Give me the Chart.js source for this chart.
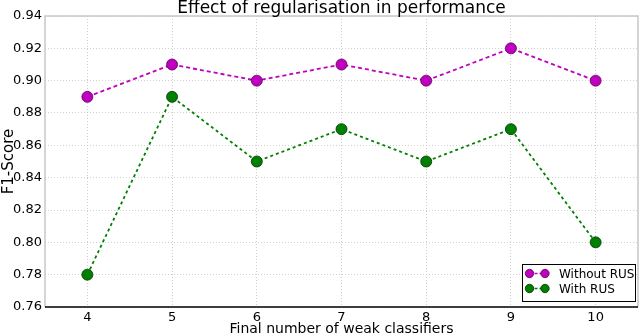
<!DOCTYPE html>
<html><head><meta charset="utf-8">
<script src="https://cdn.jsdelivr.net/npm/chart.js@4"></script>
<style>html,body{margin:0;padding:0;background:#fff}#w{width:640px;height:334px}</style>
</head><body><div id="w"><canvas id="c"></canvas></div>
<script>
const categories = [4, 5, 6, 7, 8, 9, 10];
const withoutRUS = [0.89, 0.91, 0.90, 0.91, 0.90, 0.92, 0.90];
const withRUS = [0.78, 0.89, 0.85, 0.87, 0.85, 0.87, 0.80];
const yTicks = [0.76, 0.78, 0.80, 0.82, 0.84, 0.86, 0.88, 0.90, 0.92, 0.94];
const seriesLabels = ['Without RUS', 'With RUS'];
const chartTitle = 'Effect of regularisation in performance';
const FONT = "'DejaVu Sans', sans-serif";

const titlePlugin = {
  id: 'areaTitle',
  afterDraw(chart) {
    const ctx = chart.ctx, a = chart.chartArea;
    ctx.save();
    ctx.fillStyle = '#000';
    ctx.font = '17px ' + FONT;
    ctx.textAlign = 'center';
    ctx.textBaseline = 'alphabetic';
    ctx.fillText(chartTitle, (a.left + a.right) / 2, a.top - 3);
    ctx.restore();
  }
};

const legendPlugin = {
  id: 'inLegend',
  afterDraw(chart) {
    const ctx = chart.ctx, a = chart.chartArea;
    const w = 113, h = 37;
    const x0 = a.right - 116, y0 = a.bottom - 43;
    ctx.save();
    ctx.fillStyle = '#fff';
    ctx.strokeStyle = '#000';
    ctx.lineWidth = 1;
    ctx.fillRect(x0, y0, w, h);
    ctx.strokeRect(x0 + 0.5, y0 + 0.5, w, h);
    chart.data.datasets.forEach((ds, i) => {
      const cy = y0 + 9.5 + i * 15;
      const xa = x0 + 7.5, xb = x0 + 23;
      ctx.setLineDash([3, 2]);
      ctx.strokeStyle = ds.borderColor;
      ctx.lineWidth = 1.5;
      ctx.beginPath(); ctx.moveTo(xa, cy); ctx.lineTo(xb, cy); ctx.stroke();
      ctx.setLineDash([]);
      [xa, xb].forEach(px => {
        ctx.beginPath(); ctx.arc(px, cy, 4.2, 0, Math.PI * 2);
        ctx.fillStyle = ds.pointBackgroundColor; ctx.fill();
        ctx.strokeStyle = ds.pointBorderColor; ctx.lineWidth = 0.8; ctx.stroke();
      });
      ctx.fillStyle = '#000';
      ctx.font = '12px ' + FONT;
      ctx.textBaseline = 'middle';
      ctx.textAlign = 'left';
      ctx.fillText(ds.label, x0 + 37, cy + 1);
    });
    ctx.restore();
  }
};

const frameColor = '#c8c8c8';
const framePlugin = {
  id: 'frame',
  beforeDatasetsDraw(chart) {
    const ctx = chart.ctx, a = chart.chartArea;
    ctx.save();
    ctx.strokeStyle = frameColor; ctx.lineWidth = 1.5;
    ctx.beginPath();
    ctx.moveTo(a.left, a.bottom); ctx.lineTo(a.left, a.top); ctx.lineTo(a.right, a.top); ctx.lineTo(a.right, a.bottom);
    ctx.stroke();
    ctx.strokeStyle = '#000'; ctx.lineWidth = 1.5;
    ctx.beginPath(); ctx.moveTo(a.left, a.bottom); ctx.lineTo(a.right, a.bottom); ctx.stroke();
    ctx.restore();
  }
};

const gridOpts = { color: '#c4c4c4', lineWidth: 0.8, drawTicks: false };
const borderOpts = { display: false, dash: [1, 2] };

new Chart(document.getElementById('c'), {
  type: 'line',
  data: {
    datasets: [
      {
        label: seriesLabels[0],
        data: categories.map((x, i) => ({x, y: withoutRUS[i]})),
        borderColor: '#bf00bf', backgroundColor: '#bf00bf',
        pointBackgroundColor: '#bf00bf', pointBorderColor: '#5a005a',
        borderWidth: 1.8, borderDash: [4, 3], pointRadius: 5.5, pointBorderWidth: 0.8,
        tension: 0, fill: false
      },
      {
        label: seriesLabels[1],
        data: categories.map((x, i) => ({x, y: withRUS[i]})),
        borderColor: '#008000', backgroundColor: '#008000',
        pointBackgroundColor: '#008000', pointBorderColor: '#003000',
        borderWidth: 1.8, borderDash: [3, 3], pointRadius: 5.5, pointBorderWidth: 0.8,
        tension: 0, fill: false
      }
    ]
  },
  options: {
    responsive: true, maintainAspectRatio: false, animation: false,
    layout: { autoPadding: false, padding: { left: 0, right: 2, top: 16, bottom: 0 } },
    plugins: {
      legend: { display: false },
      tooltip: { enabled: false },
      title: { display: false }
    },
    scales: {
      x: {
        type: 'linear', min: 3.5, max: 10.5,
        afterBuildTicks(s) { s.ticks = categories.map(v => ({value: v})); },
        afterFit(s) { s.height = 27; s.paddingLeft = 0; s.paddingRight = 0; },
        grid: gridOpts,
        border: borderOpts,
        ticks: { color: '#000', font: { family: FONT, size: 13 }, padding: 3, maxRotation: 0,
                 callback: v => String(v) },
        title: { display: true, text: 'Final number of weak classifiers', color: '#000',
                 font: { family: FONT, size: 14 }, padding: { top: 0, bottom: -4 } }
      },
      y: {
        type: 'linear', min: 0.76, max: 0.94,
        afterBuildTicks(s) { s.ticks = yTicks.map(v => ({value: v})); },
        afterFit(s) { s.width = 45; s.paddingTop = 0; s.paddingBottom = 0; },
        grid: gridOpts,
        border: borderOpts,
        ticks: { color: '#000', font: { family: FONT, size: 13 }, padding: 3,
                 callback: v => Number(v).toFixed(2) },
        title: { display: true, text: 'F1-Score', color: '#000',
                 font: { family: FONT, size: 15 }, padding: { top: 0, bottom: 0 } }
      }
    }
  },
  plugins: [framePlugin, legendPlugin, titlePlugin]
});
</script></body></html>
